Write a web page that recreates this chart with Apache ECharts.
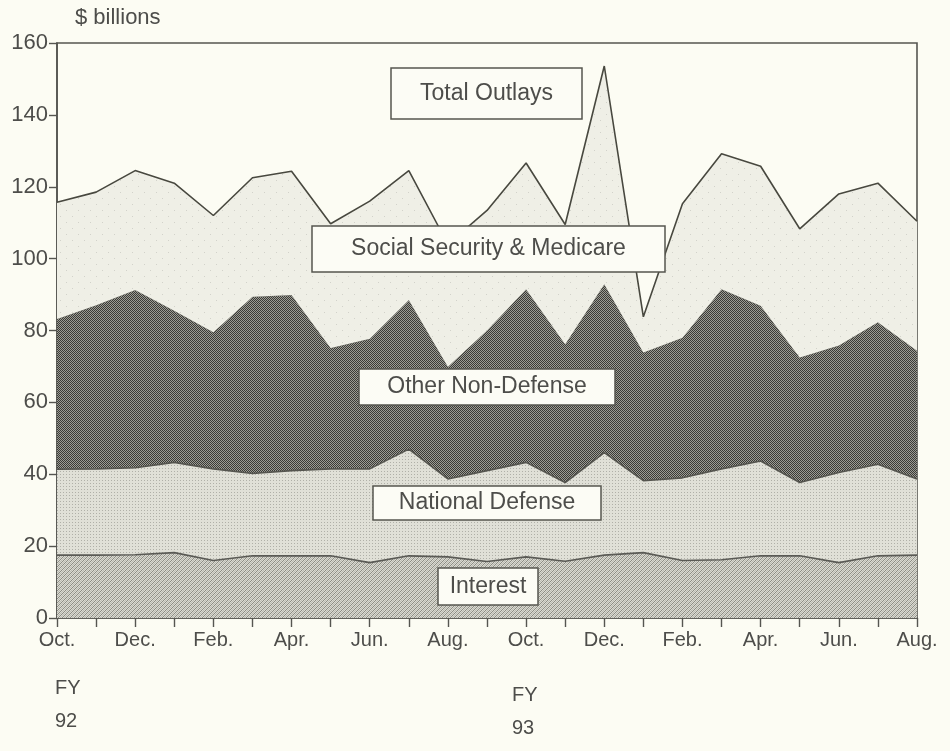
<!DOCTYPE html>
<html>
<head>
<meta charset="utf-8">
<script src="https://cdn.jsdelivr.net/npm/echarts@6/dist/echarts.min.js"></script>
<style>
html,body{margin:0;padding:0;background:#fcfcf3;}
#chart{width:950px;height:751px;}
</style>
</head>
<body>
<div id="chart"></div>
<script>
// ---- data (monthly outlays, $ billions, Oct FY92 .. Aug FY93) ----
var categories = ['1991-10','1991-11','1991-12','1992-01','1992-02','1992-03','1992-04','1992-05','1992-06','1992-07','1992-08','1992-09',
                  '1992-10','1992-11','1992-12','1993-01','1993-02','1993-03','1993-04','1993-05','1993-06','1993-07','1993-08'];
var monthLabels = ['Oct.','Nov.','Dec.','Jan.','Feb.','Mar.','Apr.','May','Jun.','Jul.','Aug.','Sep.',
                   'Oct.','Nov.','Dec.','Jan.','Feb.','Mar.','Apr.','May','Jun.','Jul.','Aug.'];
var yTicks = [0,20,40,60,80,100,120,140,160];

var interest        = [17.5,17.5,17.6,18.2,16.0,17.3,17.3,17.3,15.4,17.3,17.0,15.7,17.0,15.8,17.5,18.2,16.0,16.2,17.3,17.3,15.4,17.3,17.5];
var nationalDefense = [23.9,24.0,24.2,25.1,25.5,22.9,23.7,24.2,26.1,29.7,21.7,25.3,26.3,21.9,28.5,20.0,23.0,25.3,26.4,20.4,25.1,25.5,21.2];
var otherNonDefense = [41.8,45.5,49.5,42.2,38.0,49.2,48.9,33.6,36.2,41.5,31.2,39.0,48.2,38.5,46.9,35.7,39.0,50.0,43.2,34.8,35.3,39.5,35.7];
var socialSecurityMedicare = [32.5,31.5,33.2,35.5,32.5,33.1,34.4,34.6,38.3,36.0,34.1,33.4,35.1,33.3,60.7,9.9,37.3,37.7,38.8,35.8,42.2,38.7,36.0];

// ---- texture patterns ----
function pattern(size, draw){
  var c=document.createElement('canvas'); c.width=size; c.height=size;
  var g=c.getContext('2d'); draw(g,size); return {image:c, repeat:'repeat'};
}
var patOther = pattern(4,function(g){
  g.fillStyle='#9c9c94'; g.fillRect(0,0,4,4);
  g.fillStyle='#3a3a36';
  for(var y=0;y<4;y++)for(var x=0;x<4;x++) if((x+y)%2===0) g.fillRect(x,y,1,1);
});
var patInterest = pattern(4,function(g){
  g.fillStyle='#dadad1'; g.fillRect(0,0,4,4);
  g.fillStyle='#8c8c84';
  for(var i=0;i<4;i++) g.fillRect(i,3-i,1,1);
  g.fillStyle='#b8b8b0';
  for(var j=0;j<4;j++) g.fillRect((j+2)%4,3-j,1,1);
});
var patDefense = pattern(3,function(g){
  g.fillStyle='#e0e0d7'; g.fillRect(0,0,3,3);
  g.fillStyle='#b0b0a8'; g.fillRect(0,0,1,1);
});
var patSS = pattern(12,function(g){
  g.fillStyle='#efefe6'; g.fillRect(0,0,12,12);
  g.fillStyle='#d2d2ca'; g.fillRect(0,0,1,1); g.fillRect(6,6,1,1);
});

var font='Liberation Sans';
var txt='#4d4d4a';
var axisCol='#555550';

function box(x,y,w,h,label){
  return [
    {type:'rect', z:100, zlevel:1, shape:{x:x,y:y,width:w,height:h}, style:{fill:'#fcfcf5', stroke:'#55554f', lineWidth:1.5}},
    {type:'text', z:101, zlevel:1, x:x+w/2, y:y+h/2, style:{text:label, fill:txt, font:'23px "Liberation Sans"', textAlign:'center', textVerticalAlign:'middle'}}
  ];
}

var chart = echarts.init(document.getElementById('chart'));
var graphics = [
    {type:'text', left:75, top:7, style:{text:'$ billions', fill:txt, font:'22px "Liberation Sans"'}},
    {type:'text', left:55, top:678, style:{text:'FY', fill:txt, font:'20px "Liberation Sans"'}},
    {type:'text', left:55, top:711, style:{text:'92', fill:txt, font:'20px "Liberation Sans"'}},
    {type:'text', left:512, top:685, style:{text:'FY', fill:txt, font:'20px "Liberation Sans"'}},
    {type:'text', left:512, top:718, style:{text:'93', fill:txt, font:'20px "Liberation Sans"'}}
  ].concat(box(391,68,191,51,'Total Outlays'))
   .concat(box(312,226,353,46,'Social Security & Medicare'))
   .concat(box(359,369,256,36,'Other Non-Defense'))
   .concat(box(373,486,228,34,'National Defense'))
   .concat(box(438,568,100,37,'Interest'));

var option = {
  backgroundColor:'#fcfcf3',
  animation:false,
  grid:{left:57,right:33,top:43,bottom:133,show:true,borderColor:axisCol,borderWidth:1.6,backgroundColor:'transparent'},
  xAxis:{
    type:'category', boundaryGap:false, data:categories,
    axisLine:{lineStyle:{color:axisCol,width:1.6}},
    axisTick:{show:true, interval:0, length:9, lineStyle:{color:axisCol,width:1.4}},
    axisLabel:{interval:1, margin:12, color:txt, fontFamily:font, fontSize:20,
      formatter:function(v,i){return monthLabels[i];}},
    splitLine:{show:false}
  },
  yAxis:{
    type:'value', min:yTicks[0], max:yTicks[yTicks.length-1], interval:20,
    axisLine:{show:true,lineStyle:{color:axisCol,width:1.6}},
    axisTick:{show:true,length:8,lineStyle:{color:axisCol,width:1.4}},
    axisLabel:{margin:9,color:txt,fontFamily:font,fontSize:22},
    splitLine:{show:false}
  },
  series:[
    {name:'Interest', type:'line', stack:'t', data:interest, symbol:'none',
     lineStyle:{color:'#5a5a55',width:1.6}, areaStyle:{color:patInterest,opacity:1}, z:2},
    {name:'National Defense', type:'line', stack:'t', data:nationalDefense, symbol:'none',
     lineStyle:{color:'#55554f',width:1.6}, areaStyle:{color:patDefense,opacity:1}, z:2},
    {name:'Other Non-Defense', type:'line', stack:'t', data:otherNonDefense, symbol:'none',
     lineStyle:{color:'#66665f',width:1}, areaStyle:{color:patOther,opacity:1}, z:2},
    {name:'Social Security & Medicare', type:'line', stack:'t', data:socialSecurityMedicare, symbol:'none',
     lineStyle:{color:'#48483f',width:1.6}, areaStyle:{color:patSS,opacity:1}, z:3}
  ],
  graphic:graphics
};
chart.setOption(option);
</script>
</body>
</html>
